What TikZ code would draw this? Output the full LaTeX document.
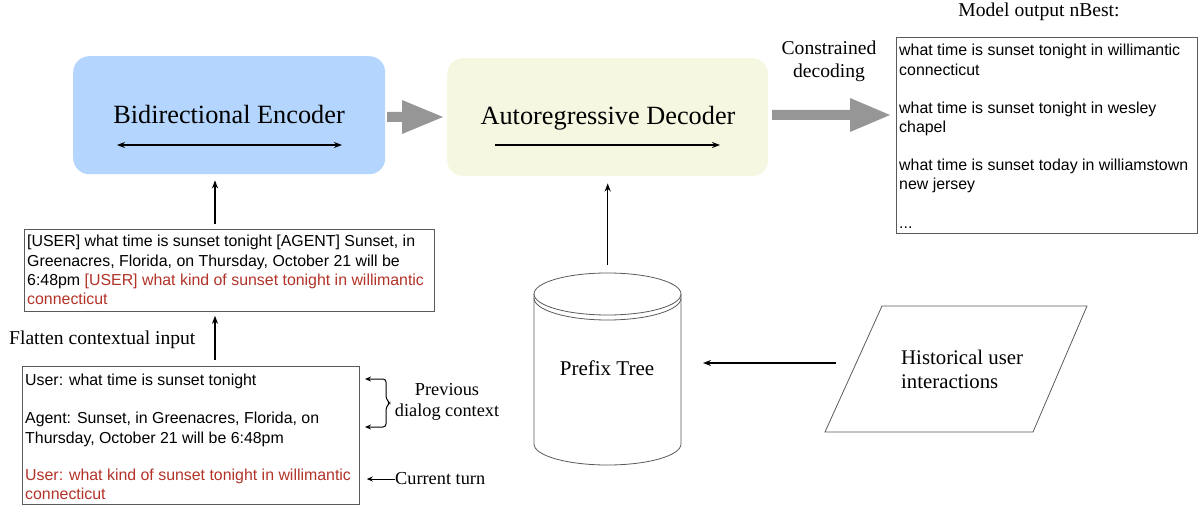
\documentclass[tikz,border=0pt]{standalone}
\usepackage{fontspec}
\setmainfont{Liberation Serif}
\newfontfamily\arialf{Liberation Sans}
\usetikzlibrary{arrows.meta,calc}
\definecolor{encblue}{RGB}{180,213,253}
\definecolor{decbeige}{RGB}{245,247,225}
\definecolor{fatgrey}{RGB}{150,150,150}
\definecolor{ctxred}{RGB}{178,50,40}
\definecolor{boxgrey}{RGB}{90,90,90}
\tikzset{
  blockbox/.style={rounded corners=16pt, draw=none, minimum width=312pt, minimum height=118pt, anchor=north west, inner sep=0pt},
  blocktext/.style={font=\fontsize{26.3}{30}\selectfont, inner sep=0pt},
  textbox/.style={draw=boxgrey, line width=0.8pt, anchor=north west, inner sep=0pt},
  boxtext/.style={font=\arialf\fontsize{15.9}{19.4}\selectfont, align=left, anchor=north west, inner sep=0pt},
  lbl/.style={font=\fontsize{19.6}{23}\selectfont, inner sep=0pt, align=center},
  blk/.style={line width=1.4pt, -{Stealth[length=8pt,width=6pt]}},
  thin/.style={line width=1pt, -{Stealth[length=6pt,width=5pt]}},
  outline/.style={draw=boxgrey, line width=0.8pt},
}
\begin{document}
\begin{tikzpicture}[x=1pt,y=-1pt]
\useasboundingbox (0,0) rectangle (1202,508);

% blocks
\node[blockbox, fill=encblue] (enc) at (73,56) {};
\node[blockbox, fill=decbeige, minimum width=321pt] (dec) at (447,58) {};
\node[blocktext] (enct) at (229,115) {Bidirectional Encoder};
\node[blocktext] (dect) at (608,118) {Autoregressive Decoder};
\coordinate (ea) at (117,145); \coordinate (eb) at (342,145);
\draw[line width=1.4pt, {Stealth[length=8pt,width=6pt]}-{Stealth[length=8pt,width=6pt]}] (ea) -- (eb);
\coordinate (da) at (495,145); \coordinate (db) at (720,145);
\draw[blk] (da) -- (db);

% fat arrows
\fill[fatgrey] (387,112) -- (402,112) -- (402,100) -- (443,117) -- (402,134) -- (402,122) -- (387,122) -- cycle;
\fill[fatgrey] (772,110) -- (850,110) -- (850,98) -- (890,115) -- (850,132) -- (850,120) -- (772,120) -- cycle;
\node[lbl] (cons) at (829,61) {Constrained\\decoding};

% output box
\node[lbl] (nbestlbl) at (1039,12) {Model output nBest:};
\node[textbox, minimum width=301pt, minimum height=196pt] (out) at (896,37) {};
\node[boxtext] (outt) at ($(out.north west)+(3,7)$) {what time is sunset tonight in willimantic\\connecticut\\[19pt]what time is sunset tonight in wesley\\chapel\\[18pt]what time is sunset today in williamstown\\new jersey\\[19pt]...};

% flat box
\node[textbox, minimum width=410pt, minimum height=82pt] (flat) at (24,229) {};
\node[boxtext] (flatt) at ($(flat.north west)+(3,6)$) {[USER] what time is sunset tonight [AGENT] Sunset, in\\Greenacres, Florida, on Thursday, October 21 will be\\6:48pm \textcolor{ctxred}{[USER] what kind of sunset tonight in willimantic}\\\textcolor{ctxred}{connecticut}};
\coordinate (fa) at ($(flat.north -| 215,0)+(0,-5)$);
\coordinate (fb) at ($(enc.south -| 215,0)+(0,6)$);
\draw[blk] (fa) -- (fb);

% context box
\node[textbox, minimum width=337pt, minimum height=138pt] (ctx) at (22,366) {};
\node[boxtext] (ctxt) at ($(ctx.north west)+(3,7.5)$) {User: what time is sunset tonight\\[19pt]Agent: Sunset, in Greenacres, Florida, on\\Thursday, October 21 will be 6:48pm\\[18pt]\textcolor{ctxred}{User: what kind of sunset tonight in willimantic}\\\textcolor{ctxred}{connecticut}};
\coordinate (ca) at ($(ctx.north -| 215,0)+(0,-6)$);
\coordinate (cb) at ($(flat.south -| 215,0)+(0,4)$);
\draw[blk] (ca) -- (cb);
\node[lbl, anchor=west] (flatlbl) at (9,340) {Flatten contextual input};

% brace with arrows
\coordinate (bt) at (365,379); \coordinate (bb) at (365,427);
\draw[line width=1pt, {Stealth[length=6pt,width=5pt]}-{Stealth[length=6pt,width=5pt]}, rounded corners=3pt]
  (bt) -- (386,379) -- (386,399) -- (390,403) -- (386,407) -- (386,427) -- (bb);
\node[lbl, font=\fontsize{18.3}{20.5}\selectfont] (prevlbl) at (447,402) {Previous\\dialog context};
\node[lbl, font=\fontsize{18.3}{21}\selectfont, anchor=west] (curlbl) at (395,479) {Current turn};
\coordinate (ctip) at ($(ctx.east |- curlbl.west)+(7,0)$);
\draw[thin] (curlbl.west) -- (ctip);

% cylinder
\node[minimum width=147pt, minimum height=192pt, inner sep=0pt, anchor=north west] (tree) at (534,273) {};
\draw[outline, fill=white] (534,294) -- (534,444) arc[start angle=180, end angle=0, x radius=73.5, y radius=21] -- (681,294);
\draw[outline] (607.5,294) ellipse[x radius=73.5, y radius=21];
\draw[outline] (534,298) arc[start angle=180, end angle=0, x radius=73.5, y radius=22];
\node[lbl, font=\fontsize{21}{24}\selectfont] (treet) at (607,368) {Prefix Tree};
\coordinate (ta) at ($(tree.north)+(0,-8)$);
\coordinate (tb) at ($(dec.south -| tree.north)+(0,7)$);
\draw[blk] (ta) -- (tb);

% parallelogram
\draw[outline] (882,306) -- (1087,306) -- (1033,432) -- (825,432) -- cycle;
\node[inner sep=0pt, minimum width=262pt, minimum height=126pt] (histbox) at (956,369) {};
\node[lbl, font=\fontsize{20.8}{24}\selectfont, align=left, anchor=west] (hist) at (901,369) {Historical user\\interactions};
\coordinate (hin) at (836,363);
\draw[blk] (hin) -- (703,363);
\end{tikzpicture}
\end{document}
